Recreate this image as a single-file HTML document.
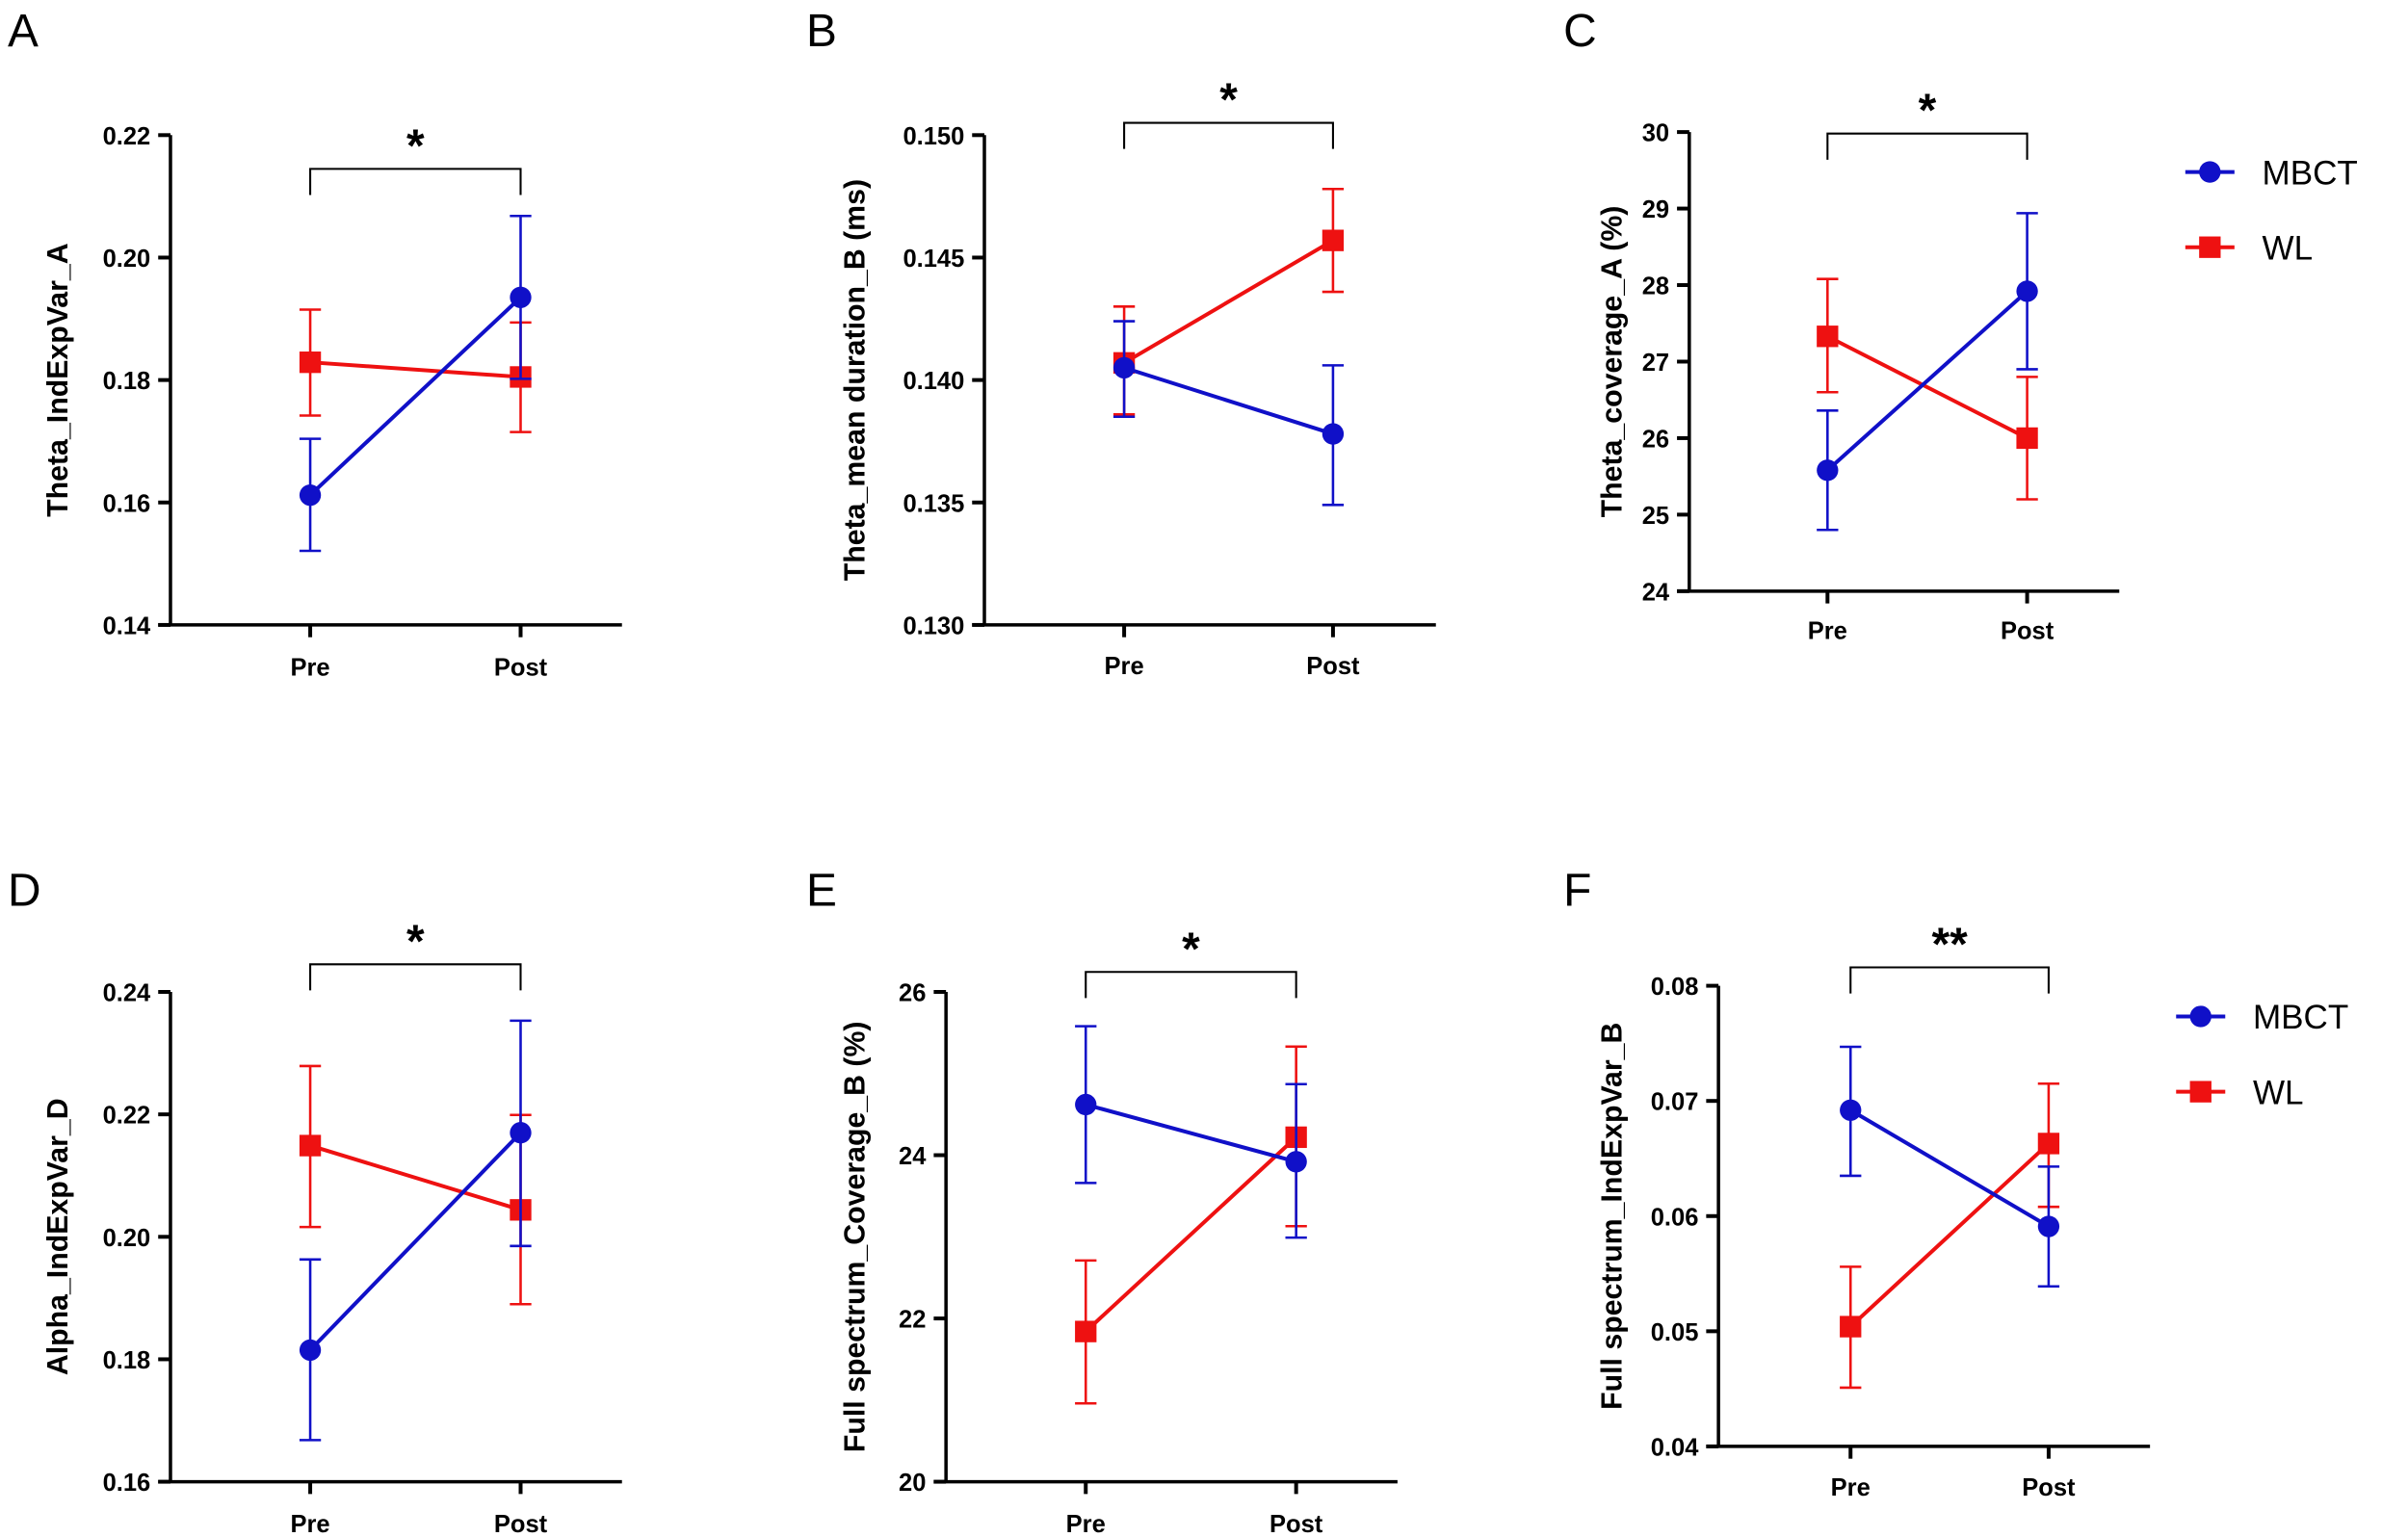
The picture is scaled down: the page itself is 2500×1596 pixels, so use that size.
<!DOCTYPE html>
<html><head><meta charset="utf-8">
<style>html,body{margin:0;padding:0;background:#fff}svg{display:block}text{font-family:"Liberation Sans",Arial,sans-serif}</style>
</head><body>
<svg id="s" width="2500" height="1596" viewBox="0 0 1568 1001" preserveAspectRatio="none" xmlns="http://www.w3.org/2000/svg"></svg>
<script>
const B='#1010c8',R='#ee1111';
let h='';
function P(o){
 const {ax,y0,y1,v0,v1,ticks,fmt,pre,post,xend,lab,lx,by,star,sy,m,w,labY}=o;
 const Y=v=>y1+(v-v0)*(y0-y1)/(v1-v0);
 h+=`<line x1="${ax}" y1="${y0}" x2="${ax}" y2="${y1}" stroke="#000" stroke-width="2.2"/>`;
 h+=`<line x1="${ax-8}" y1="${y1}" x2="${xend}" y2="${y1}" stroke="#000" stroke-width="2.2"/>`;
 ticks.forEach(t=>{const y=Y(t);h+=`<line x1="${ax-8}" y1="${y}" x2="${ax}" y2="${y}" stroke="#000" stroke-width="2.5"/><text x="${ax-13}" y="${y+6}" font-size="16" font-weight="bold" text-anchor="end">${t.toFixed(fmt)}</text>`;});
 [pre,post].forEach((x,i)=>{h+=`<line x1="${x}" y1="${y1}" x2="${x}" y2="${y1+8}" stroke="#000" stroke-width="2.5"/><text x="${x}" y="${labY}" font-size="16" font-weight="bold" text-anchor="middle">${i?'Post':'Pre'}</text>`;});
 h+=`<text transform="translate(${lx},${(y0+y1)/2}) rotate(-90)" font-size="19" font-weight="bold" text-anchor="middle">${lab}</text>`;
 h+=`<path d="M${pre} ${by+17}V${by}H${post}V${by+17}" fill="none" stroke="#000" stroke-width="1.3"/>`;
 h+=`<text x="${(pre+post)/2}" y="${sy}" font-size="30" font-weight="bold" text-anchor="middle">${star}</text>`;
 [[w,R,'s'],[m,B,'c']].forEach(([d,c,sh])=>{
  const xs=[pre,post];
  h+=`<line x1="${pre}" y1="${Y(d[0][0])}" x2="${post}" y2="${Y(d[1][0])}" stroke="${c}" stroke-width="2.5"/>`;
  d.forEach((p,i)=>{const x=xs[i];const a=Y(p[1]),b=Y(p[2]);
   h+=`<path d="M${x-7} ${a}H${x+7}M${x} ${a}V${b}M${x-7} ${b}H${x+7}" stroke="${c}" stroke-width="1.6" fill="none"/>`;
   const y=Y(p[0]);
   h+= sh=='c'?`<circle cx="${x}" cy="${y}" r="7" fill="${c}"/>`:`<rect x="${x-7}" y="${y-7}" width="14" height="14" fill="${c}"/>`;});
 });
}
P({ax:111,y0:88,y1:407,v0:0.14,v1:0.22,ticks:[0.14,0.16,0.18,0.20,0.22],fmt:2,pre:202,post:339,xend:405,lab:'Theta_IndExpVar_A',lx:44,by:110,star:'*',sy:105,labY:440,
 m:[[0.1612,0.1521,0.1704],[0.1935,0.1802,0.2068]],w:[[0.1829,0.1742,0.1915],[0.1805,0.1715,0.1894]]});
P({ax:641,y0:88,y1:407,v0:0.130,v1:0.150,ticks:[0.130,0.135,0.140,0.145,0.150],fmt:3,pre:732,post:868,xend:935,lab:'Theta_mean duration_B (ms)',lx:563,by:80,star:'*',sy:75,labY:439,
 m:[[0.1405,0.1385,0.1424],[0.1378,0.1349,0.1406]],w:[[0.1407,0.1386,0.1430],[0.1457,0.1436,0.1478]]});
P({ax:1100,y0:86,y1:385,v0:24,v1:30,ticks:[24,25,26,27,28,29,30],fmt:0,pre:1190,post:1320,xend:1380,lab:'Theta_coverage_A (%)',lx:1056,by:87,star:'*',sy:82,labY:416,
 m:[[25.58,24.8,26.36],[27.92,26.9,28.94]],w:[[27.33,26.6,28.08],[26.0,25.2,26.8]]});
P({ax:111,y0:646,y1:965,v0:0.16,v1:0.24,ticks:[0.16,0.18,0.20,0.22,0.24],fmt:2,pre:202,post:339,xend:405,lab:'Alpha_IndExpVar_D',lx:44,by:628,star:'*',sy:623,labY:998,
 m:[[0.1815,0.1668,0.1963],[0.217,0.1985,0.2353]],w:[[0.2149,0.2016,0.2279],[0.2044,0.1890,0.2199]]});
P({ax:616,y0:646,y1:965,v0:20,v1:26,ticks:[20,22,24,26],fmt:0,pre:707,post:844,xend:910,lab:'Full spectrum_Coverage_B (%)',lx:563,by:633,star:'*',sy:628,labY:998,
 m:[[24.62,23.66,25.58],[23.92,22.99,24.87]],w:[[21.84,20.96,22.71],[24.22,23.13,25.33]]});
P({ax:1119,y0:642,y1:942,v0:0.04,v1:0.08,ticks:[0.04,0.05,0.06,0.07,0.08],fmt:2,pre:1205,post:1334,xend:1400,lab:'Full spectrum_IndExpVar_B',lx:1056,by:630,star:'**',sy:625,labY:974,
 m:[[0.0692,0.0635,0.0747],[0.0591,0.0539,0.0643]],w:[[0.0504,0.0451,0.0556],[0.0663,0.0608,0.0715]]});
[['A',5,30],['B',525,30],['C',1018,30],['D',5,590],['E',525,590],['F',1018,590]].forEach(([t,x,y])=>h+=`<text x="${x}" y="${y}" font-size="30">${t}</text>`);
function L(x,y){
 h+=`<line x1="${x}" y1="${y}" x2="${x+32}" y2="${y}" stroke="${B}" stroke-width="2.5"/><circle cx="${x+16}" cy="${y}" r="7" fill="${B}"/><text x="${x+50}" y="${y+8}" font-size="22">MBCT</text>`;
 h+=`<line x1="${x}" y1="${y+49}" x2="${x+32}" y2="${y+49}" stroke="${R}" stroke-width="2.5"/><rect x="${x+9}" y="${y+42}" width="14" height="14" fill="${R}"/><text x="${x+50}" y="${y+57}" font-size="22">WL</text>`;
}
L(1423,112);L(1417,662);
document.getElementById('s').innerHTML=h;
</script>
</body></html>
